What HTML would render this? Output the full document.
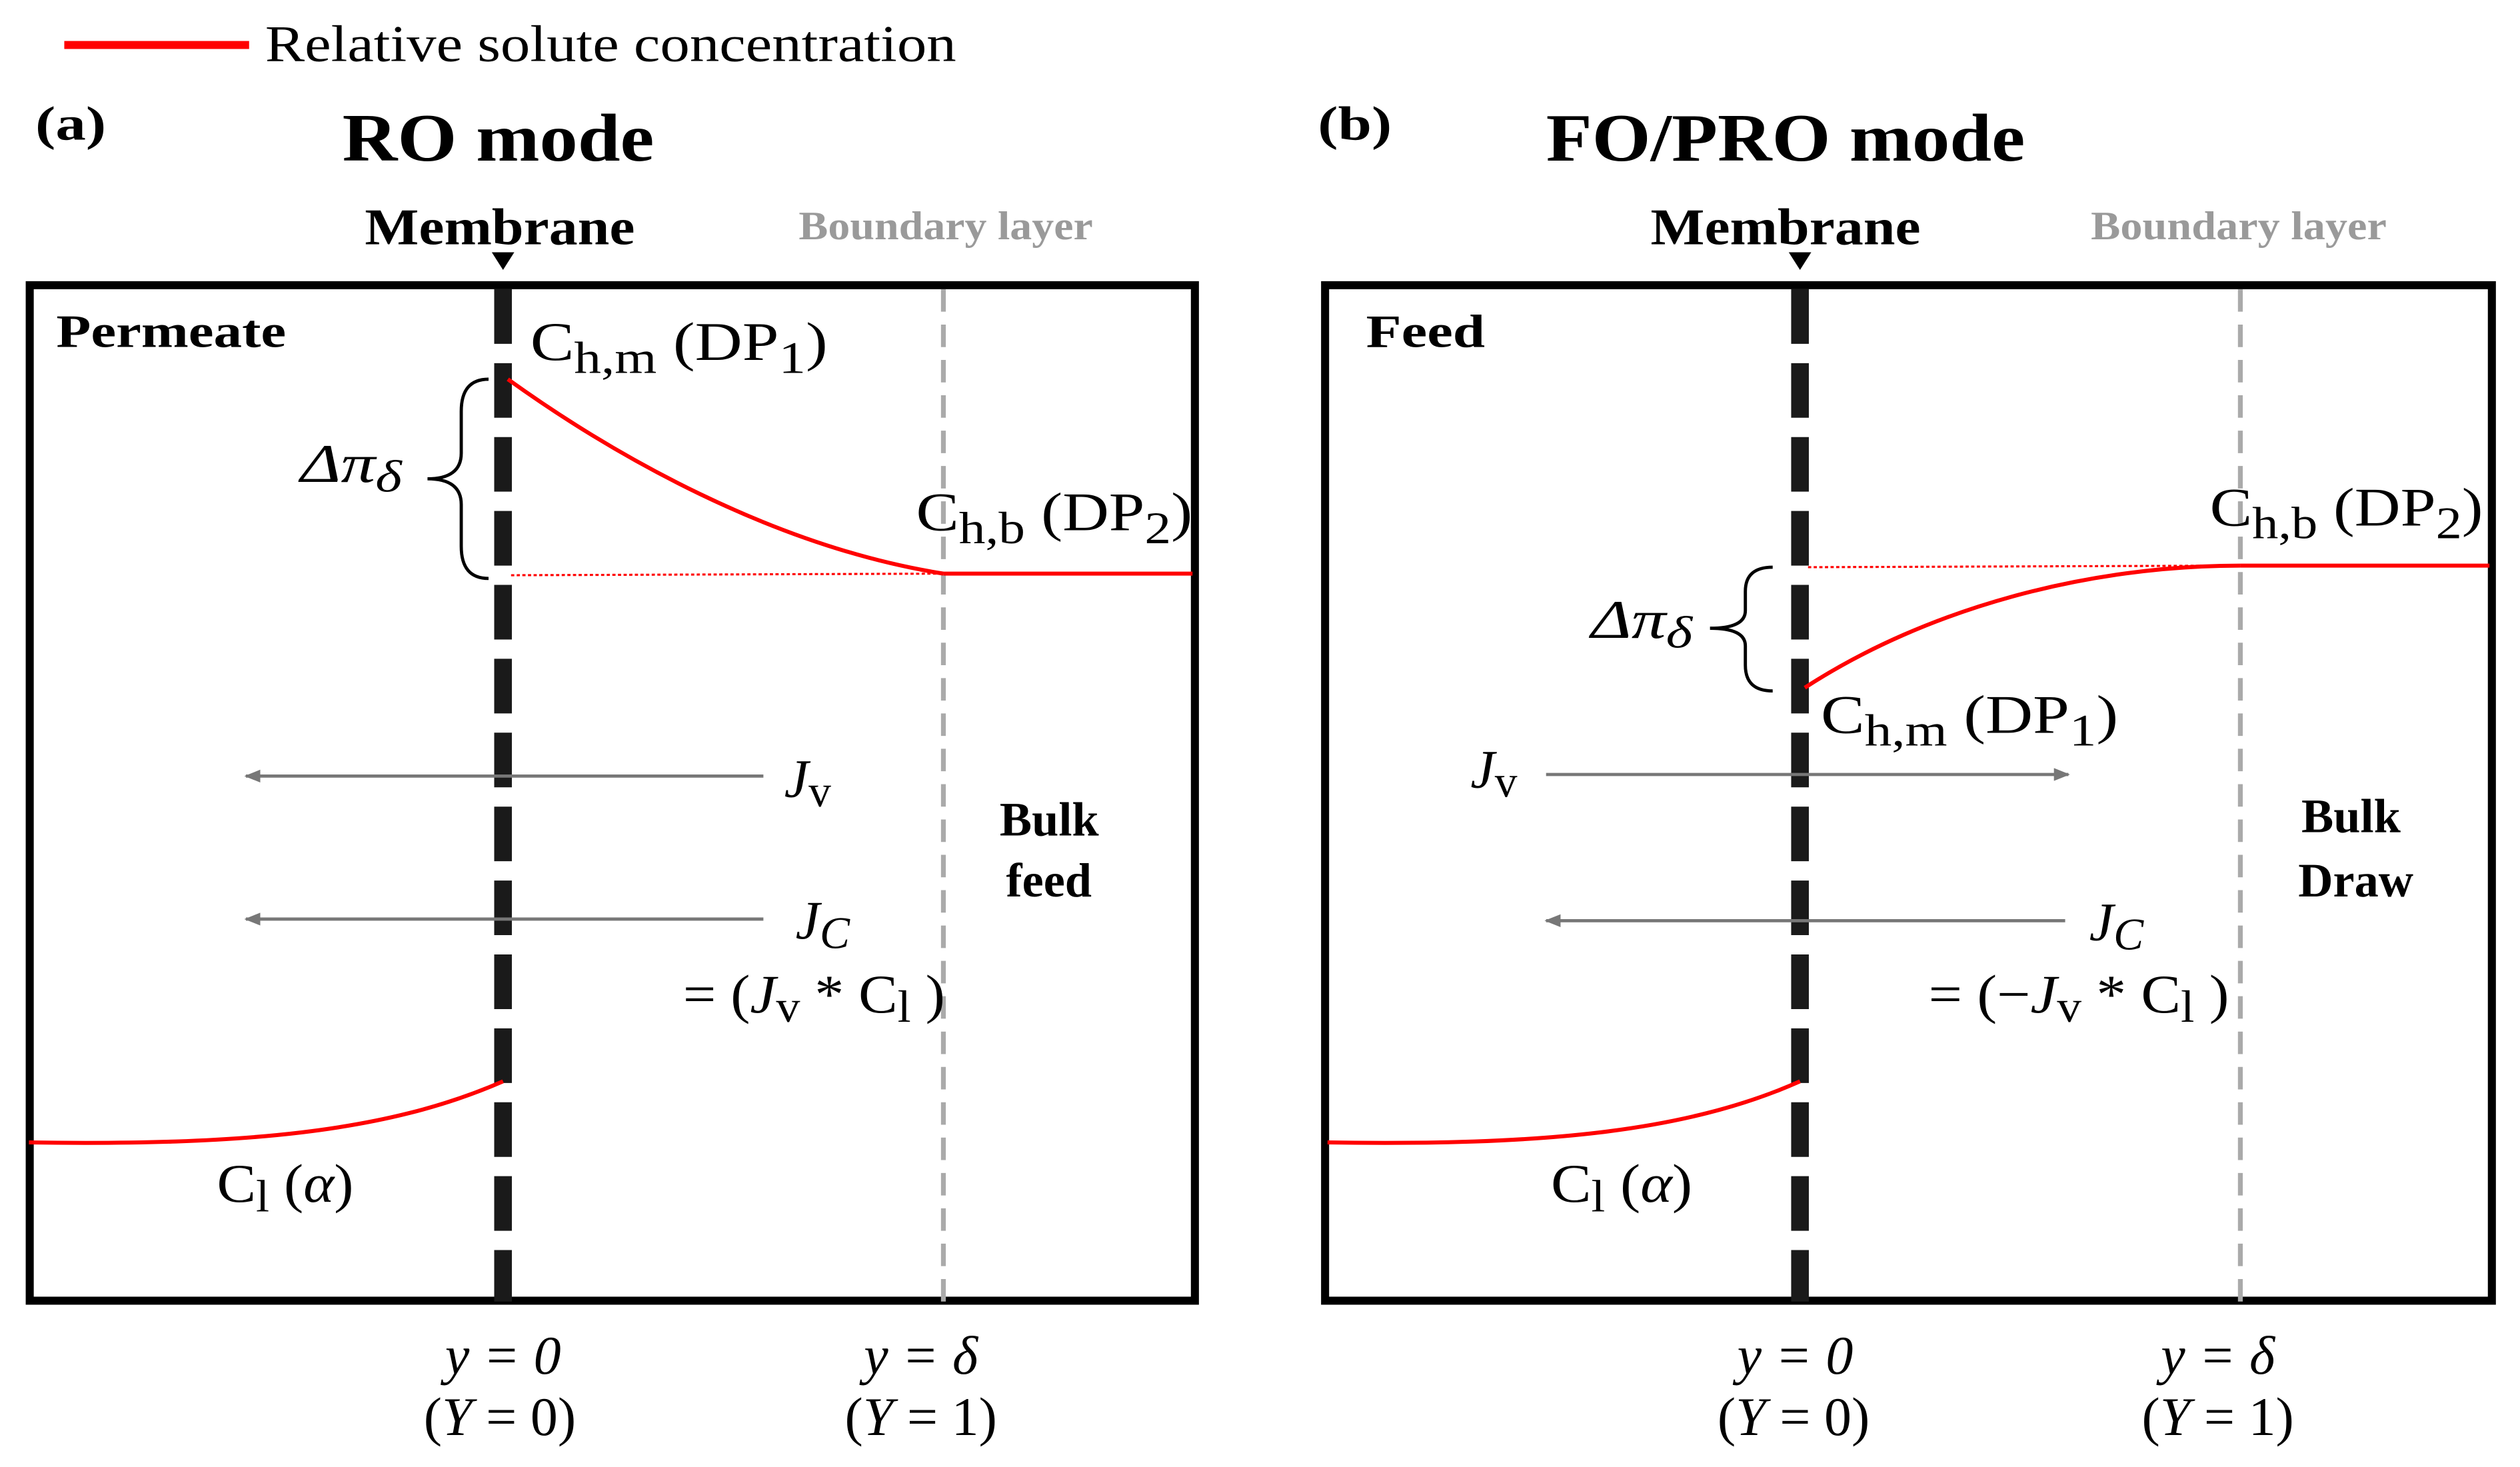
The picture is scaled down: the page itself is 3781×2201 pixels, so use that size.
<!DOCTYPE html>
<html><head><meta charset="utf-8"><style>
html,body{margin:0;padding:0;background:#fff;}
svg{display:block;}
text{font-family:"Liberation Serif",serif;}
.b{font-weight:bold;}
.m{font-size:34px;}
.s{font-size:28px;}
</style></head><body>
<svg width="3781" height="2201" viewBox="0 0 1568 913" preserveAspectRatio="none" xmlns="http://www.w3.org/2000/svg">
<defs>
<marker id="ah" markerWidth="10" markerHeight="8" refX="9" refY="4" orient="auto" markerUnits="userSpaceOnUse">
<path d="M0,0 L10,4 L0,8 Z" fill="#777"/></marker>
</defs>
<!-- legend -->
<line x1="40" y1="28" x2="155" y2="28" stroke="#f00" stroke-width="5"/>
<text x="165" y="38" font-size="32" textLength="430" lengthAdjust="spacingAndGlyphs">Relative solute concentration</text>

<!-- Panel A -->
<text x="22" y="87" class="b" font-size="30" textLength="44" lengthAdjust="spacingAndGlyphs">(a)</text>
<text x="213" y="100" class="b" font-size="42" textLength="194" lengthAdjust="spacingAndGlyphs">RO mode</text>
<text x="227" y="152" class="b" font-size="32" textLength="168" lengthAdjust="spacingAndGlyphs">Membrane</text>
<text x="497" y="149" class="b" font-size="25" fill="#9a9a9a" textLength="183" lengthAdjust="spacingAndGlyphs">Boundary layer</text>
<path d="M306,157 L320,157 L313,168 Z" fill="#000"/>
<rect x="18.5" y="177.5" width="725" height="632" fill="none" stroke="#000" stroke-width="5"/>
<line x1="313" y1="180" x2="313" y2="810" stroke="#1a1a1a" stroke-width="11" stroke-dasharray="34 12"/>
<line x1="587" y1="180" x2="587" y2="810" stroke="#aaa" stroke-width="3" stroke-dasharray="14 8"/>
<text x="35" y="216" class="b" font-size="29" textLength="143" lengthAdjust="spacingAndGlyphs">Permeate</text>
<path d="M316,236 C380,282 480,340 587,357" fill="none" stroke="#f00" stroke-width="2.5"/>
<line x1="587" y1="357" x2="742" y2="357" stroke="#f00" stroke-width="2.5"/>
<line x1="318" y1="358" x2="587" y2="357" stroke="#f00" stroke-width="1.3" stroke-dasharray="2 1.5"/>
<path d="M18,711 C150,713 240,705 313,673" fill="none" stroke="#f00" stroke-width="2.5"/>
<path d="M304,236 Q287,236 287,256 L287,282 Q287,298 266,298 Q287,298 287,314 L287,340 Q287,360 304,360" fill="none" stroke="#000" stroke-width="2"/>
<text x="330" y="224" class="m" textLength="185" lengthAdjust="spacingAndGlyphs">C<tspan class="s" dy="8">h,m</tspan><tspan dy="-8"> (DP</tspan><tspan class="s" dy="8">1</tspan><tspan dy="-8">)</tspan></text>
<text x="187" y="300" class="m" font-style="italic" textLength="63" lengthAdjust="spacingAndGlyphs">Δπ<tspan class="s" dy="6">δ</tspan></text>
<text x="570" y="330" class="m" textLength="172" lengthAdjust="spacingAndGlyphs">C<tspan class="s" dy="8">h,b</tspan><tspan dy="-8"> (DP</tspan><tspan class="s" dy="8">2</tspan><tspan dy="-8">)</tspan></text>
<line x1="475" y1="483" x2="153" y2="483" stroke="#777" stroke-width="2" marker-end="url(#ah)"/>
<line x1="475" y1="572" x2="153" y2="572" stroke="#777" stroke-width="2" marker-end="url(#ah)"/>
<text x="488" y="496" class="m" font-style="italic">J<tspan class="s" dy="6" font-style="normal">v</tspan></text>
<text x="495" y="584" class="m" font-style="italic">J<tspan class="s" dy="6">C</tspan></text>
<text x="425" y="630" class="m" textLength="163" lengthAdjust="spacingAndGlyphs">= (<tspan font-style="italic">J</tspan><tspan class="s" dy="6">v</tspan><tspan dy="-6"> * C</tspan><tspan class="s" dy="6">l</tspan><tspan dy="-6"> )</tspan></text>
<text x="622" y="520" class="b" font-size="30">Bulk</text>
<text x="626" y="558" class="b" font-size="30">feed</text>
<text x="135" y="748" class="m" textLength="85" lengthAdjust="spacingAndGlyphs">C<tspan class="s" dy="6">l</tspan><tspan dy="-6"> (<tspan font-style="italic">α</tspan>)</tspan></text>
<text x="313" y="855" class="m" font-style="italic" text-anchor="middle">y = 0</text>
<text x="311" y="893" class="m" text-anchor="middle">(<tspan font-style="italic">Y</tspan> = 0)</text>
<text x="573" y="855" class="m" font-style="italic" text-anchor="middle">y = δ</text>
<text x="573" y="893" class="m" text-anchor="middle">(<tspan font-style="italic">Y</tspan> = 1)</text>

<!-- Panel B -->
<text x="820" y="87" class="b" font-size="30" textLength="46" lengthAdjust="spacingAndGlyphs">(b)</text>
<text x="962" y="100" class="b" font-size="42" textLength="298" lengthAdjust="spacingAndGlyphs">FO/PRO mode</text>
<text x="1027" y="152" class="b" font-size="32" textLength="168" lengthAdjust="spacingAndGlyphs">Membrane</text>
<text x="1301" y="149" class="b" font-size="25" fill="#9a9a9a" textLength="184" lengthAdjust="spacingAndGlyphs">Boundary layer</text>
<path d="M1113,157 L1127,157 L1120,168 Z" fill="#000"/>
<rect x="824.5" y="177.5" width="726" height="632" fill="none" stroke="#000" stroke-width="5"/>
<line x1="1120" y1="180" x2="1120" y2="810" stroke="#1a1a1a" stroke-width="11" stroke-dasharray="34 12"/>
<line x1="1394" y1="180" x2="1394" y2="810" stroke="#aaa" stroke-width="3" stroke-dasharray="14 8"/>
<text x="850" y="216" class="b" font-size="29" textLength="74" lengthAdjust="spacingAndGlyphs">Feed</text>
<path d="M1123,428 C1200,378 1300,352 1394,352" fill="none" stroke="#f00" stroke-width="2.5"/>
<line x1="1394" y1="352" x2="1549" y2="352" stroke="#f00" stroke-width="2.5"/>
<line x1="1125" y1="353" x2="1394" y2="352" stroke="#f00" stroke-width="1.3" stroke-dasharray="2 1.5"/>
<path d="M826,711 C958,713 1048,705 1120,673" fill="none" stroke="#f00" stroke-width="2.5"/>
<path d="M1103,353 Q1086,353 1086,368 L1086,380 Q1086,391 1064,391 Q1086,391 1086,402 L1086,414 Q1086,430 1103,430" fill="none" stroke="#000" stroke-width="2"/>
<text x="1375" y="327" class="m" textLength="170" lengthAdjust="spacingAndGlyphs">C<tspan class="s" dy="8">h,b</tspan><tspan dy="-8"> (DP</tspan><tspan class="s" dy="8">2</tspan><tspan dy="-8">)</tspan></text>
<text x="990" y="397" class="m" font-style="italic" textLength="63" lengthAdjust="spacingAndGlyphs">Δπ<tspan class="s" dy="6">δ</tspan></text>
<text x="1133" y="456" class="m" textLength="185" lengthAdjust="spacingAndGlyphs">C<tspan class="s" dy="8">h,m</tspan><tspan dy="-8"> (DP</tspan><tspan class="s" dy="8">1</tspan><tspan dy="-8">)</tspan></text>
<text x="915" y="490" class="m" font-style="italic">J<tspan class="s" dy="6" font-style="normal">v</tspan></text>
<line x1="962" y1="482" x2="1287" y2="482" stroke="#777" stroke-width="2" marker-end="url(#ah)"/>
<line x1="1285" y1="573" x2="962" y2="573" stroke="#777" stroke-width="2" marker-end="url(#ah)"/>
<text x="1300" y="585" class="m" font-style="italic">J<tspan class="s" dy="6">C</tspan></text>
<text x="1200" y="630" class="m" textLength="187" lengthAdjust="spacingAndGlyphs">= (−<tspan font-style="italic">J</tspan><tspan class="s" dy="6">v</tspan><tspan dy="-6"> * C</tspan><tspan class="s" dy="6">l</tspan><tspan dy="-6"> )</tspan></text>
<text x="1432" y="518" class="b" font-size="30">Bulk</text>
<text x="1430" y="558" class="b" font-size="30">Draw</text>
<text x="965" y="748" class="m" textLength="88" lengthAdjust="spacingAndGlyphs">C<tspan class="s" dy="6">l</tspan><tspan dy="-6"> (<tspan font-style="italic">α</tspan>)</tspan></text>
<text x="1117" y="855" class="m" font-style="italic" text-anchor="middle">y = 0</text>
<text x="1116" y="893" class="m" text-anchor="middle">(<tspan font-style="italic">Y</tspan> = 0)</text>
<text x="1380" y="855" class="m" font-style="italic" text-anchor="middle">y = δ</text>
<text x="1380" y="893" class="m" text-anchor="middle">(<tspan font-style="italic">Y</tspan> = 1)</text>
</svg>
</body></html>
